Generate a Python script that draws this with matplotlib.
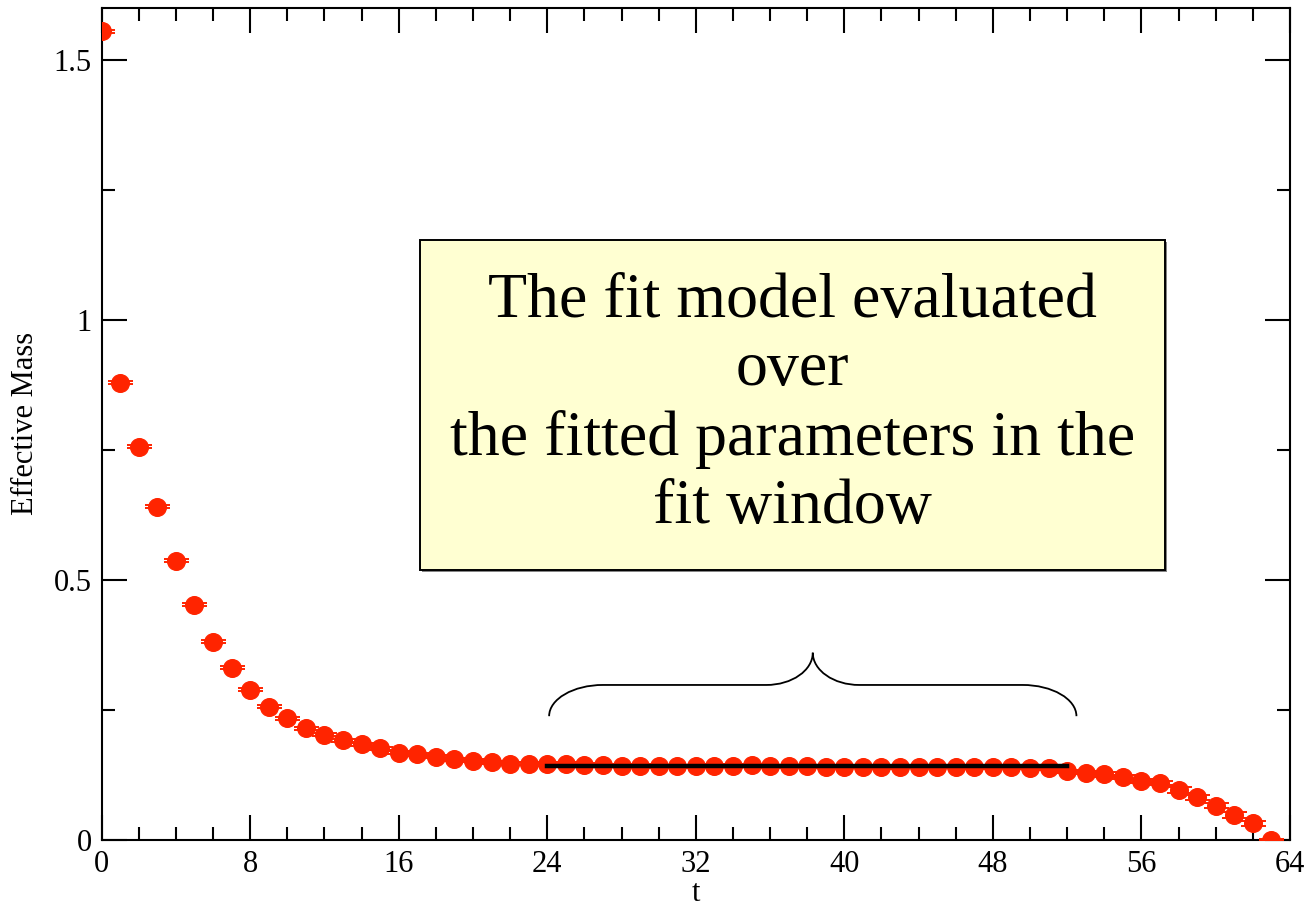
import numpy as np
import matplotlib.pyplot as plt
from matplotlib.patches import Rectangle, PathPatch
from matplotlib.path import Path
from matplotlib.ticker import MultipleLocator
import matplotlib.patheffects as pe

plt.rcParams['font.family'] = ['Liberation Serif', 'DejaVu Serif']

# effective mass per time slice
t = np.arange(64)
meff = [1.554, 0.879, 0.756, 0.641, 0.537, 0.452, 0.381, 0.331, 0.289, 0.256,
        0.234, 0.215, 0.202, 0.192, 0.184, 0.176, 0.168, 0.165, 0.160, 0.155,
        0.152, 0.149, 0.147, 0.147, 0.146, 0.146, 0.145, 0.144, 0.143, 0.143,
        0.142, 0.142, 0.142, 0.143, 0.143, 0.144, 0.142, 0.142, 0.142, 0.141,
        0.141, 0.141, 0.140, 0.141, 0.141, 0.141, 0.141, 0.140, 0.141, 0.141,
        0.139, 0.138, 0.132, 0.129, 0.126, 0.121, 0.114, 0.109, 0.096, 0.082,
        0.066, 0.048, 0.032, 0.000]
meff_err = [0.002, 0.003, 0.003, 0.003, 0.003, 0.003, 0.003, 0.003, 0.003, 0.003,
            0.003, 0.003, 0.003, 0.003, 0.003, 0.003, 0.003, 0.003, 0.003, 0.003,
            0.003, 0.003, 0.003, 0.003, 0.003, 0.003, 0.003, 0.003, 0.003, 0.003,
            0.003, 0.003, 0.003, 0.003, 0.003, 0.003, 0.003, 0.003, 0.003, 0.003,
            0.003, 0.003, 0.003, 0.003, 0.003, 0.003, 0.003, 0.003, 0.003, 0.003,
            0.003, 0.003, 0.003, 0.003, 0.004, 0.004, 0.004, 0.004, 0.005, 0.005,
            0.005, 0.005, 0.005, 0.002]

# fit window and fitted plateau
fit_window = [24, 52]
fit_mass = 0.142

label_text = "The fit model evaluated\nover\nthe fitted parameters in the\nfit window"

fig = plt.figure(figsize=(13.1, 9.09), dpi=100)
ax = fig.add_axes([0.0776, 0.0759, 0.9071, 0.9158])

red = '#ff2400'
ax.errorbar(t, meff, yerr=meff_err, fmt='o', color=red, ms=12.7, mec=red,
            ecolor=red, elinewidth=1.4, capsize=9, capthick=1.4, zorder=3)

ax.plot(fit_window, [fit_mass, fit_mass], color='black', lw=3.2, zorder=4)

# curly brace above the fit window
x0, x1 = fit_window[0] + 0.1, fit_window[1] + 0.5
xm = 0.5 * (x0 + x1)
yb, yh, ytip = 0.238, 0.298, 0.36
dx, dxt = 2.9, 2.5
k = 0.55
verts = [
    (x0, yb), (x0, yb + k * (yh - yb)), (x0 + dx - k * dx, yh), (x0 + dx, yh),
    (xm - dxt, yh),
    (xm - dxt + k * dxt, yh), (xm, ytip - k * (ytip - yh)), (xm, ytip),
    (xm, ytip - k * (ytip - yh)), (xm + dxt - k * dxt, yh), (xm + dxt, yh),
    (x1 - dx, yh),
    (x1 - dx + k * dx, yh), (x1, yb + k * (yh - yb)), (x1, yb),
]
codes = [Path.MOVETO, Path.CURVE4, Path.CURVE4, Path.CURVE4,
         Path.LINETO,
         Path.CURVE4, Path.CURVE4, Path.CURVE4,
         Path.CURVE4, Path.CURVE4, Path.CURVE4,
         Path.LINETO,
         Path.CURVE4, Path.CURVE4, Path.CURVE4]
ax.add_patch(PathPatch(Path(verts, codes), fc='none', ec='black', lw=1.3, zorder=2))

# annotation box
box = Rectangle((17.14, 0.519), 40.12, 0.635, fc='#ffffd2', ec='black', lw=1.4, zorder=5,
                path_effects=[pe.SimplePatchShadow(offset=(1.5, -1.5), shadow_rgbFace='0.4', alpha=0.8),
                              pe.Normal()])
ax.add_patch(box)
ax.text(37.2, 0.836, label_text, ha='center', va='center', fontsize=46,
        linespacing=1.23, zorder=6)

ax.set_xlim(0, 64)
ax.set_ylim(0, 1.6)
ax.xaxis.set_major_locator(MultipleLocator(8))
ax.xaxis.set_minor_locator(MultipleLocator(2))
ax.yaxis.set_major_locator(MultipleLocator(0.5))
ax.yaxis.set_minor_locator(MultipleLocator(0.25))
ax.set_yticks([0, 0.5, 1, 1.5], ['0', '0.5', '1', '1.5'])
ax.tick_params(which='both', direction='in', top=True, right=True, width=1.5, labelsize=22)
ax.tick_params(which='major', length=18)
ax.tick_params(which='minor', length=9.5)
ax.tick_params(axis='x', pad=7)
ax.tick_params(axis='y', pad=7)
for s in ax.spines.values():
    s.set_linewidth(1.5)

ax.set_xlabel('t', fontsize=22, labelpad=0)
ax.set_ylabel('Effective Mass', fontsize=22, labelpad=10)

fig.savefig('out.png', dpi=100)
